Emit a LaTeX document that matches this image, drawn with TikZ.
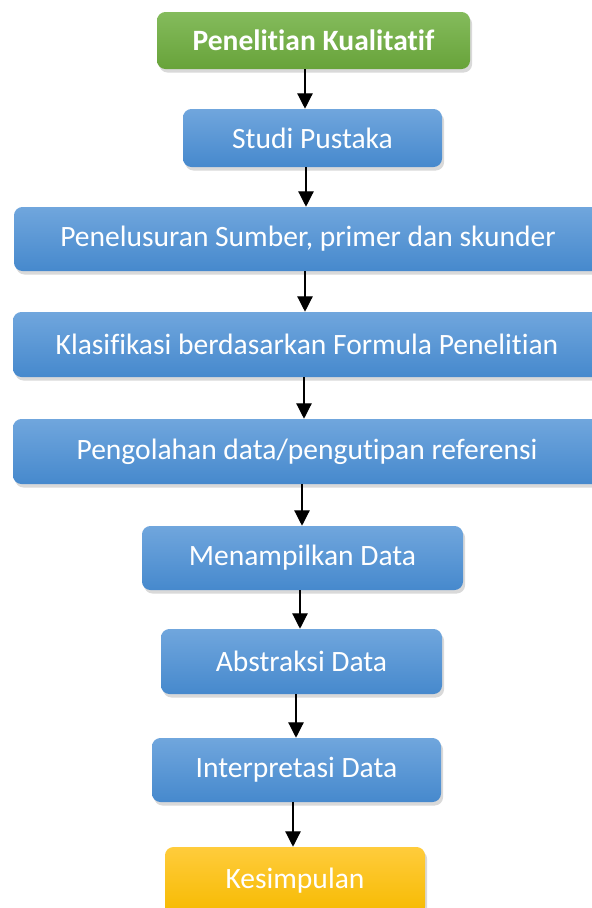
\documentclass[tikz,border=0pt]{standalone}
\usepackage{fontspec}
\setmainfont{Carlito}[Ligatures=NoCommon]
\usetikzlibrary{arrows.meta,shadows}

\definecolor{stepTop}{RGB}{112,166,221}
\definecolor{stepBot}{RGB}{70,137,205}
\definecolor{startTop}{RGB}{132,187,92}
\definecolor{startBot}{RGB}{104,163,58}
\definecolor{endTop}{RGB}{255,204,60}
\definecolor{endBot}{RGB}{246,186,0}

\tikzset{
    stepbox/.style={rounded corners=6pt, top color=stepTop, bottom color=stepBot,
        text=white, font=\fontsize{21}{24}\selectfont, inner sep=0pt,
        drop shadow={opacity=0.3, shadow xshift=1.5pt, shadow yshift=-2.5pt}},
    startbox/.style={stepbox, top color=startTop, bottom color=startBot,
        font=\fontsize{21}{24}\selectfont\bfseries},
    endbox/.style={stepbox, top color=endTop, bottom color=endBot},
    flow/.style={-{Triangle[length=11pt,width=11pt]}, line width=0.9pt, black}
}

\begin{document}
\begin{tikzpicture}[x=0.025cm, y=-0.025cm]
    % Page frame (reference is 592 x 908 px)
    \useasboundingbox (0,0) rectangle (592,908);

    % Steps of the research, top to bottom
    \node[startbox, minimum width=313*0.025cm, minimum height=57*0.025cm] (kualitatif) at (313.5,40.5) {Penelitian Kualitatif};
    \node[stepbox, minimum width=259*0.025cm, minimum height=58*0.025cm] (pustaka) at (312.5,138) {Studi Pustaka};
    \node[stepbox, minimum width=588*0.025cm, minimum height=64*0.025cm] (sumber) at (308,239) {Penelusuran Sumber, primer dan skunder};
    \node[stepbox, minimum width=588*0.025cm, minimum height=65*0.025cm] (klasifikasi) at (307,344.5) {Klasifikasi berdasarkan Formula Penelitian};
    \node[stepbox, minimum width=588*0.025cm, minimum height=65*0.025cm] (pengolahan) at (307,451.5) {Pengolahan data/pengutipan referensi};
    \node[stepbox, minimum width=321*0.025cm, minimum height=64*0.025cm] (tampil) at (302.5,558) {Menampilkan Data};
    \node[stepbox, minimum width=281*0.025cm, minimum height=65*0.025cm] (abstraksi) at (301.5,661.5) {Abstraksi Data};
    \node[stepbox, minimum width=289*0.025cm, minimum height=64*0.025cm] (interpretasi) at (296.5,770) {Interpretasi Data};
    \node[endbox, minimum width=260*0.025cm, minimum height=68*0.025cm] (simpulan) at (295,881) {Kesimpulan};

    % Arrows between the steps (not quite centred, as in the sketch)
    \draw[flow] (kualitatif.south -| 305,0) -- (pustaka.north -| 305,0);
    \draw[flow] (pustaka.south -| 306,0) -- (sumber.north -| 306,0);
    \draw[flow] (sumber.south -| 305,0) -- (klasifikasi.north -| 305,0);
    \draw[flow] (klasifikasi.south -| 304,0) -- (pengolahan.north -| 304,0);
    \draw[flow] (pengolahan.south -| 302,0) -- (tampil.north -| 302,0);
    \draw[flow] (tampil.south -| 300,0) -- (abstraksi.north -| 300,0);
    \draw[flow] (abstraksi.south -| 296,0) -- (interpretasi.north -| 296,0);
    \draw[flow] (interpretasi.south -| 293,0) -- (simpulan.north -| 293,0);
\end{tikzpicture}
\end{document}
